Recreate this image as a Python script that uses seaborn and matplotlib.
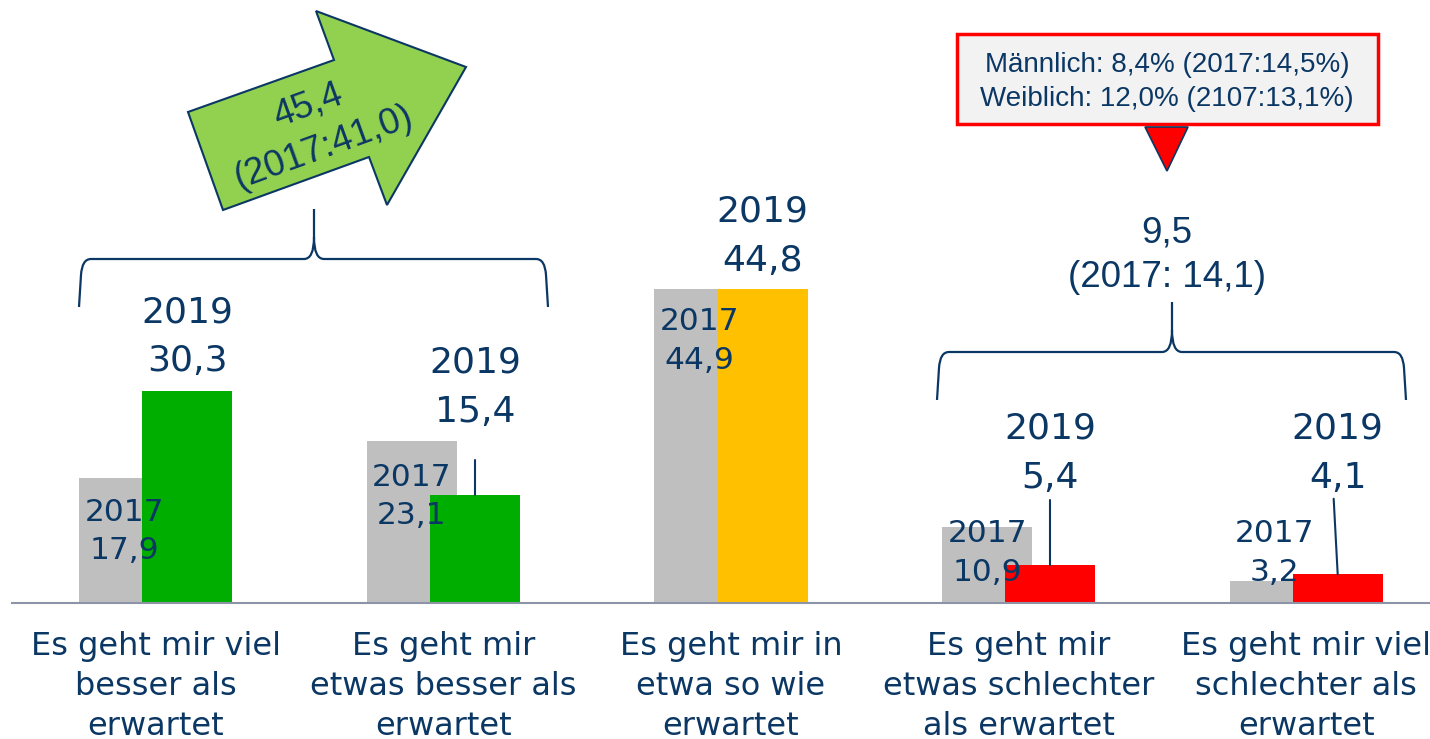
import numpy as np
import pandas as pd
import matplotlib
matplotlib.use("Agg")
import matplotlib.pyplot as plt
import seaborn as sns
from matplotlib.path import Path
from matplotlib.patches import PathPatch, Polygon, Rectangle
from matplotlib.transforms import Affine2D

# ---------------- data ----------------
categories = [
    "Es geht mir viel\nbesser als\nerwartet",
    "Es geht mir\netwas besser als\nerwartet",
    "Es geht mir in\netwa so wie\nerwartet",
    "Es geht mir\netwas schlechter\nals erwartet",
    "Es geht mir viel\nschlechter als\nerwartet",
]
values_2017 = [17.9, 23.1, 44.9, 10.9, 3.2]
values_2019 = [30.3, 15.4, 44.8, 5.4, 4.1]
labels_2017 = ["17,9", "23,1", "44,9", "10,9", "3,2"]
labels_2019 = ["30,3", "15,4", "44,8", "5,4", "4,1"]
colors_2019 = ["#00ae00", "#00ae00", "#ffc000", "#ff0000", "#ff0000"]
summary_better = "45,4\n(2017:41,0)"
summary_worse = "9,5\n(2017: 14,1)"
callout_lines = ["Männlich: 8,4% (2017:14,5%)", "Weiblich: 12,0% (2107:13,1%)"]

# ---------------- layout ----------------
W, H = 1430, 739
NAVY = "#0b3764"
GRAY = "#bfbfbf"
AXIS = "#8e94a8"
PX_PER_CAT = 287.6
PX_PER_UNIT = 7.0
BASE_PX = 603
LEFT_PX = 12
off = 0.1095
bw = 0.313
lab17_y = [10.2, 15.2, 37.4, 7.1, 7.1]
lab19_y = [38.0, 30.8, 52.4, 21.4, 21.4]
leader_top = [None, 20.4, None, 14.7, 14.9]
leader_dx = [0, 0, 0, 0, -0.014]

sns.set_style("white")
fig = plt.figure(figsize=(W / 100, H / 100), dpi=100)
ax = fig.add_axes([LEFT_PX / W, (H - BASE_PX) / H, (W - LEFT_PX) / W, BASE_PX / H])

pos = np.arange(len(categories))
df = pd.DataFrame({
    "cat": categories,
    "x17": pos - off,
    "x19": pos + off,
    "v17": values_2017,
    "v19": values_2019,
})

sns.barplot(data=df, x="x17", y="v17", native_scale=True, width=bw,
            color=GRAY, saturation=1, errorbar=None, linewidth=0, ax=ax)
sns.barplot(data=df, x="x19", y="v19", hue="cat",
            palette=dict(zip(categories, colors_2019)), native_scale=True,
            width=bw, dodge=False, saturation=1, errorbar=None, linewidth=0,
            legend=False, ax=ax)

ax.set_xlim(-0.5, -0.5 + (W - LEFT_PX) / PX_PER_CAT)
ax.set_ylim(0, BASE_PX / PX_PER_UNIT)
ax.set_xlabel("")
ax.set_ylabel("")
ax.set_yticks([])
for s in ["top", "left", "right"]:
    ax.spines[s].set_visible(False)
ax.spines["bottom"].set_color(AXIS)
ax.spines["bottom"].set_linewidth(1.5)
ax.set_xticks(pos)
ax.set_xticklabels(categories)
ax.set_xticks(np.arange(-0.5, 4.0, 1.0), minor=True)
ax.tick_params(axis="x", which="major", length=0, pad=20, labelsize=23,
               labelcolor=NAVY)
ax.tick_params(axis="x", which="minor", length=8, width=1.5, color=AXIS,
               direction="out")
for t in ax.get_xticklabels():
    t.set_linespacing(1.39)

# bar labels
for i in range(len(categories)):
    ax.text(pos[i] - off, lab17_y[i], "2017\n" + labels_2017[i], ha="center",
            va="center", fontsize=22.5, color=NAVY, linespacing=1.42)
    ax.text(pos[i] + off, lab19_y[i], "2019\n" + labels_2019[i], ha="center",
            va="center", fontsize=26, color=NAVY, linespacing=1.55)
    if leader_top[i] is not None:
        ax.plot([pos[i] + off, pos[i] + off + leader_dx[i]],
                [values_2019[i], leader_top[i]], color=NAVY, lw=1.5)

# ---------------- decorations in pixel layout coords ----------------
tr = Affine2D().scale(1 / W, -1 / H).translate(0, 1) + fig.transFigure


def brace(x0, x1, xc, yb, yh, ytop):
    verts = [
        (xc, ytop), (xc, yh - 22), (xc, yh), (xc - 10, yh),
        (x0 + 12, yh), (x0 + 3, yh), (x0 + 2, yh + 16), (x0, yb),
        (xc, yh - 22), (xc, yh), (xc + 10, yh),
        (x1 - 12, yh), (x1 - 3, yh), (x1 - 2, yh + 16), (x1, yb),
    ]
    codes = [
        Path.MOVETO, Path.LINETO, Path.CURVE3, Path.CURVE3,
        Path.LINETO, Path.CURVE3, Path.CURVE3, Path.LINETO,
        Path.MOVETO, Path.CURVE3, Path.CURVE3,
        Path.LINETO, Path.CURVE3, Path.CURVE3, Path.LINETO,
    ]
    p = PathPatch(Path(verts, codes), facecolor="none", edgecolor=NAVY,
                  lw=1.6, transform=tr, clip_on=False)
    fig.add_artist(p)


brace(79, 548, 314, 307, 259, 209)
brace(937, 1406, 1172, 400, 352, 302)

arrow = Polygon([(188, 112), (334, 60), (316, 11), (466, 67), (387, 205),
                 (369, 157), (223, 210)], closed=True, facecolor="#92d050",
                edgecolor=NAVY, lw=1.5, transform=tr, clip_on=False)
fig.add_artist(arrow)
fig.text(316 / W, 1 - 127 / H, summary_better, transform=fig.transFigure,
         rotation=20, rotation_mode="anchor", ha="center", va="center",
         fontsize=26.5, color=NAVY, family="Liberation Sans", linespacing=1.35)

box = Rectangle((957, 34), 421, 90, facecolor="#f2f2f2", edgecolor="#ff0000",
                lw=2.5, transform=tr, clip_on=False)
fig.add_artist(box)
fig.text(1167 / W, 1 - 82 / H, "\n".join(callout_lines), ha="center",
         va="center", fontsize=20, color=NAVY, family="Liberation Sans",
         linespacing=1.39)
tri = Polygon([(1145, 127), (1188, 127), (1167, 171)], closed=True,
              facecolor="#ff0000", edgecolor=NAVY, lw=1.2, transform=tr,
              clip_on=False)
fig.add_artist(tri)
fig.text(1167 / W, 1 - 255 / H, summary_worse, ha="center", va="center",
         fontsize=26.5, color=NAVY, family="Liberation Sans", linespacing=1.35)

fig.savefig("out.png", dpi=100)
